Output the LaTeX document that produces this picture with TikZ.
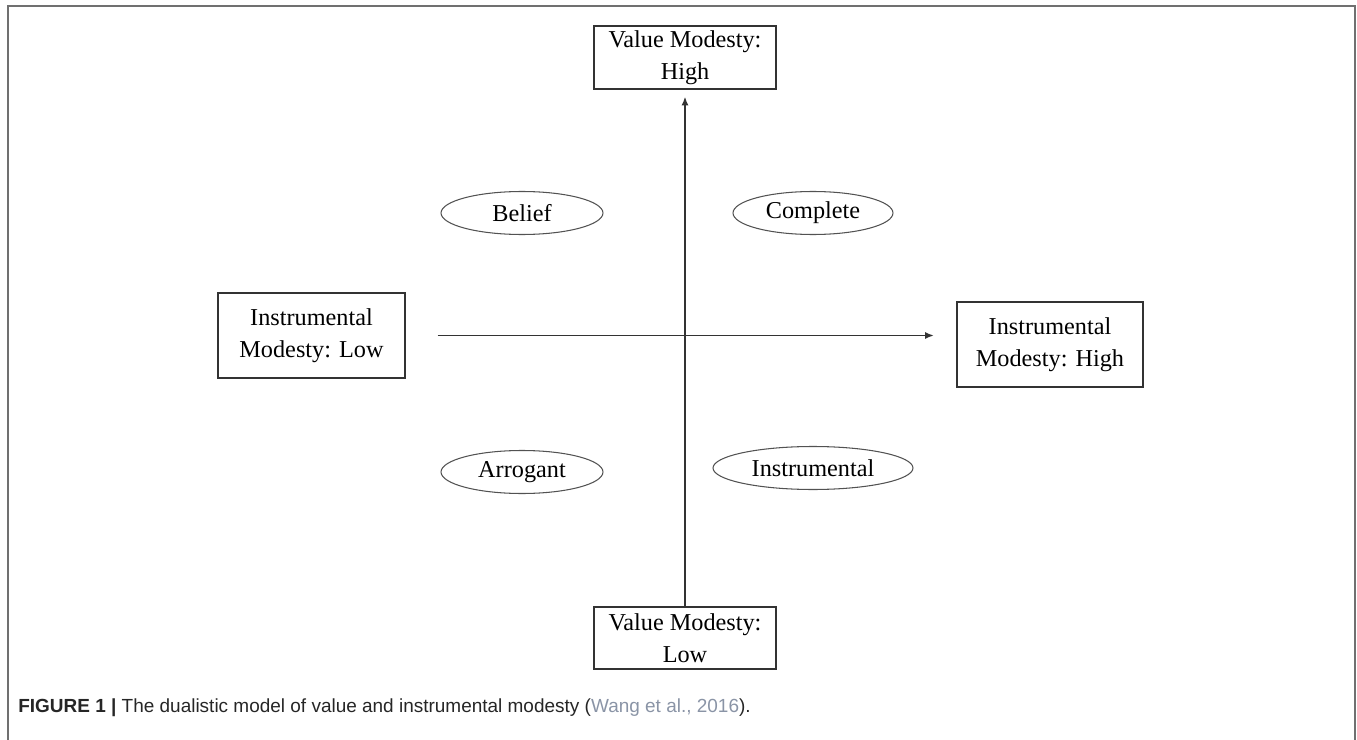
\documentclass[tikz,border=0pt]{standalone}
\usepackage{fontspec}
\setmainfont{Liberation Serif}
\newfontfamily\capfont{Liberation Sans}
\usetikzlibrary{shapes.geometric,arrows.meta}
\definecolor{linegray}{HTML}{333333}
\definecolor{framegray}{HTML}{707070}
\definecolor{citegray}{HTML}{8A94A6}
\begin{document}
\begin{tikzpicture}[x=0.02cm,y=-0.02cm,
    font=\fontsize{13.8}{18}\selectfont,
    polebox/.style={draw=linegray,line width=0.9pt,align=center,minimum width=3.64cm,minimum height=1.25cm,inner sep=0pt},
    sidebox/.style={polebox,minimum width=3.73cm,minimum height=1.7cm},
    typeoval/.style={draw=linegray!85,line width=0.6pt,ellipse,minimum width=3.24cm,minimum height=0.86cm,inner sep=0pt},
    axisline/.style={draw=linegray,line width=1pt,-{Latex[length=5pt,width=4pt]}}]
    \useasboundingbox (0,0) rectangle (1357,740);
    % frame
    \draw[framegray,line width=0.8pt] (8,740) -- (8,6) -- (1355,6) -- (1355,740);

    % poles of the two axes
    \node[polebox] (highval) at (685,57.5) {Value Modesty:\\High};
    \node[polebox] (lowval) at (685,638) {Value Modesty:\\Low};
    \node[sidebox] (lowinst) at (311.5,335.5) {Instrumental\\Modesty: Low};
    \node[sidebox] (highinst) at (1050,344.5) {Instrumental\\Modesty: High};

    \draw[axisline,shorten >=0.14cm] (lowval) -- (highval);
    \draw[axisline,shorten <=0.64cm,shorten >=0.44cm] (lowinst) -- (lowinst -| highinst.west);

    % the four kinds of modesty
    \node[typeoval] (belief) at (522,213) {Belief};
    \node[typeoval,minimum width=3.2cm] (complete) at (813,213) {Complete};
    \node[typeoval] (arrogant) at (522,472) {Arrogant};
    \node[typeoval,minimum width=4cm] (instrumental) at (813,468) {Instrumental};

    % caption
    \node[anchor=west,font=\capfont\fontsize{10.8}{12}\selectfont,text=black!85,inner sep=0pt] (caption) at (18,708)
        {\textbf{FIGURE 1 |} The dualistic model of value and instrumental modesty (\textcolor{citegray}{Wang et al., 2016}).};
\end{tikzpicture}
\end{document}
